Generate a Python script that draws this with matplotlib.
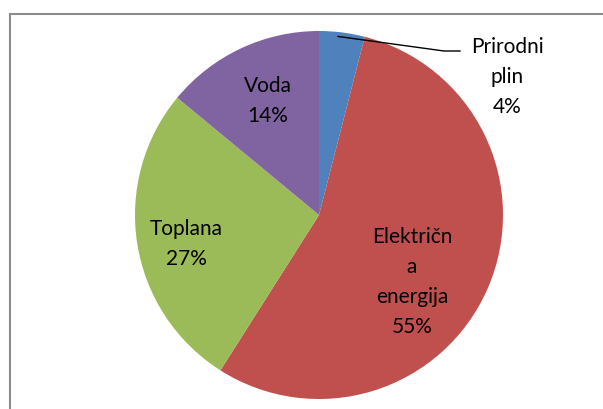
import numpy as np
import matplotlib.pyplot as plt
from matplotlib.patches import Rectangle

# Data
labels = ["Prirodni\nplin", "Električn\na\nenergija", "Toplana", "Voda"]
shares = [4, 55, 27, 14]
colors = ["#4F81BD", "#C0504D", "#9BBB59", "#8064A2"]

W, H = 603, 410
fig = plt.figure(figsize=(W / 100, H / 100), dpi=100)
ax = fig.add_axes([0, 0, 1, 1])

# Pie centre / radius in pixel units (y measured from top)
cx, cy, r = 319, 216, 184
wedges, _ = ax.pie(shares, colors=colors, startangle=90, counterclock=False,
                   center=(cx, H - cy), radius=r,
                   wedgeprops=dict(linewidth=0))

ax.set_xlim(0, W)
ax.set_ylim(0, H)
ax.set_aspect("equal")
ax.axis("off")

# chart border
ax.add_patch(Rectangle((10, -20), W, H - 15 + 20, fill=False,
                       edgecolor="#8C8C8C", linewidth=1.5, clip_on=False))

font = dict(family=["Lato", "DejaVu Sans"], fontsize=15, color="black",
            ha="center", va="center", linespacing=1.62)

# label positions (pixels from top-left)
label_pos = [(507, 77), (412, 282), (186, 244), (268, 101)]
for lab, val, (lx, ly) in zip(labels, shares, label_pos):
    ax.text(lx, H - ly, f"{lab}\n{val}%", **font)

# leader line for the small slice
w = wedges[0]
mid = np.deg2rad((w.theta1 + w.theta2) / 2)
x0, y0 = cx + r * np.cos(mid), (H - cy) + r * np.sin(mid)
ax.plot([x0 - 4, 444, 460], [y0 - 4, H - 52, H - 52], color="black", lw=1)

fig.savefig("out.png", dpi=100)
